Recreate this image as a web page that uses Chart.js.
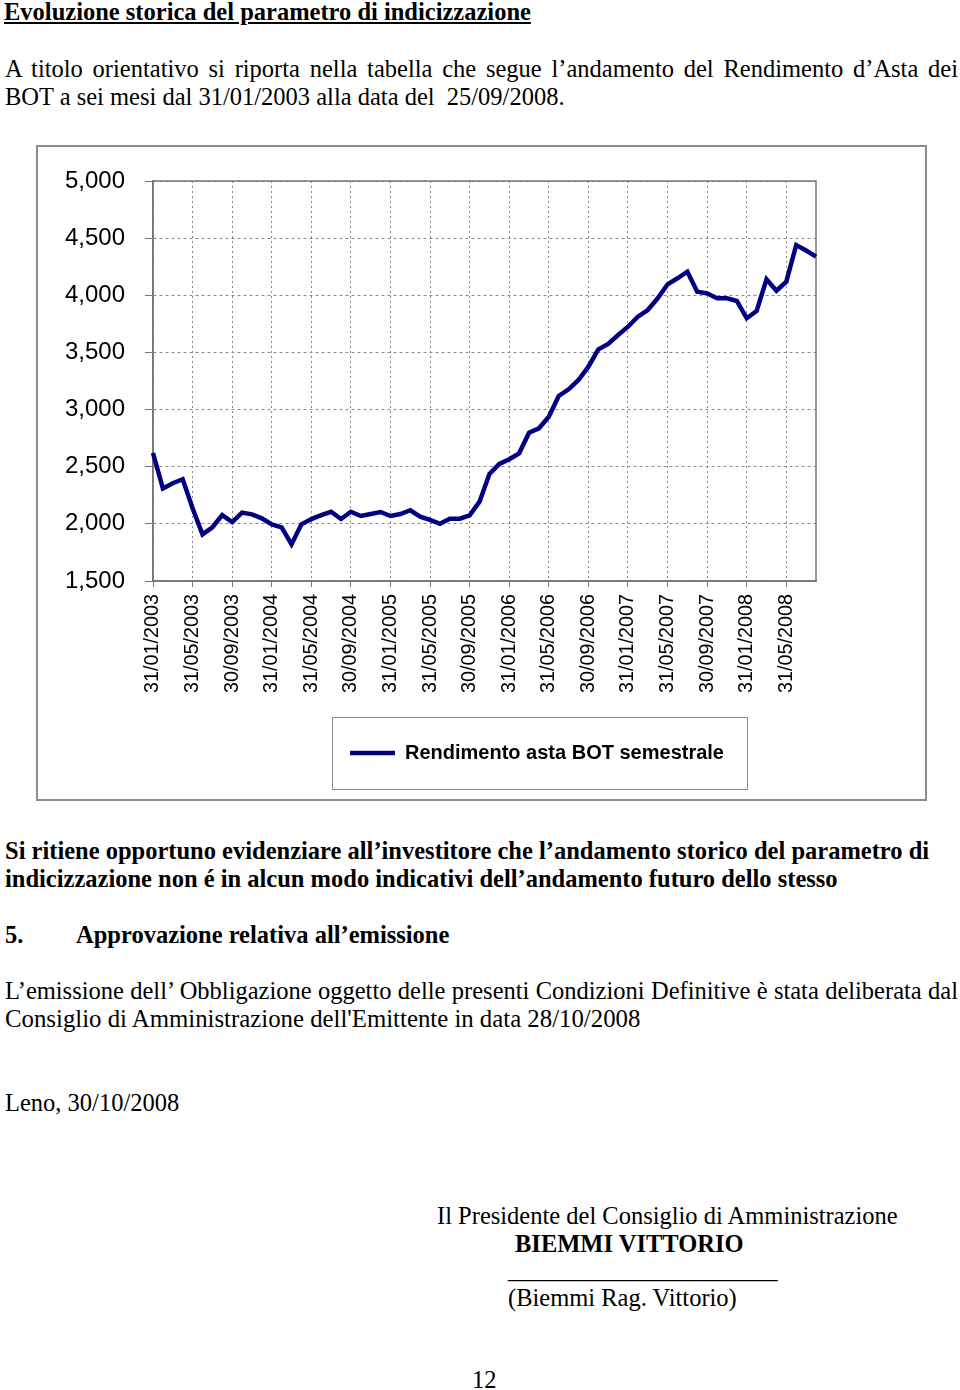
<!DOCTYPE html>
<html><head><meta charset="utf-8">
<script src="https://cdn.jsdelivr.net/npm/chart.js@4.4.1/dist/chart.umd.min.js"></script>
<style>
html,body{margin:0;padding:0;background:#fff;}
body{width:960px;height:1390px;position:relative;overflow:hidden;}
.t{position:absolute;font-family:"Liberation Serif","Times New Roman",serif;font-size:24.5px;line-height:24.5px;white-space:pre;color:#000;}
.b{font-weight:bold;}
.u{text-decoration:underline;}
.j{text-align:justify;text-align-last:justify;white-space:normal;}
#frame{position:absolute;left:36px;top:145px;width:891px;height:656px;border:2px solid #8c8c8c;box-sizing:border-box;}
#wrap{position:absolute;left:37px;top:146px;width:890px;height:655px;}
</style></head><body>
<div class="t b u" style="left:4px;top:0px;">Evoluzione storica del parametro di indicizzazione</div>
<div class="t j" style="left:5px;top:56.5px;width:953px;">A titolo orientativo si riporta nella tabella che segue l’andamento del Rendimento d’Asta dei</div>
<div class="t" style="left:5px;top:84.5px;">BOT a sei mesi dal 31/01/2003 alla data del  25/09/2008.</div>

<div id="frame"></div>
<div id="wrap"><canvas id="c" width="890" height="655" style="width:890px;height:655px;"></canvas></div>

<div class="t b" style="left:5px;top:838.5px;">Si ritiene opportuno evidenziare all’investitore che l’andamento storico del parametro di</div>
<div class="t b" style="left:5px;top:866.5px;">indicizzazione non é in alcun modo indicativi dell’andamento futuro dello stesso</div>
<div class="t b" style="left:5px;top:922.5px;">5.</div>
<div class="t b" style="left:76px;top:922.5px;">Approvazione relativa all’emissione</div>
<div class="t j" style="left:5px;top:978.5px;width:953px;">L’emissione dell’ Obbligazione oggetto delle presenti Condizioni Definitive è stata deliberata dal</div>
<div class="t" style="left:5px;top:1006.5px;font-size:24.8px;">Consiglio di Amministrazione dell'Emittente in data 28/10/2008</div>
<div class="t" style="left:5px;top:1090.5px;">Leno, 30/10/2008</div>
<div class="t" style="left:437px;top:1203.5px;">Il Presidente del Consiglio di Amministrazione</div>
<div class="t b" style="left:515px;top:1231.5px;">BIEMMI VITTORIO</div>
<div class="t" style="left:508px;top:1257.5px;">______________________</div>
<div class="t" style="left:508px;top:1285.5px;">(Biemmi Rag. Vittorio)</div>
<div class="t" style="left:472px;top:1367.5px;">12</div>

<script>
// ---- data ----
const dates = [
  '31/01/2003','28/02/2003','31/03/2003','30/04/2003','31/05/2003','30/06/2003','31/07/2003','31/08/2003','30/09/2003','31/10/2003','30/11/2003','31/12/2003',
  '31/01/2004','29/02/2004','31/03/2004','30/04/2004','31/05/2004','30/06/2004','31/07/2004','31/08/2004','30/09/2004','31/10/2004','30/11/2004','31/12/2004',
  '31/01/2005','28/02/2005','31/03/2005','30/04/2005','31/05/2005','30/06/2005','31/07/2005','31/08/2005','30/09/2005','31/10/2005','30/11/2005','31/12/2005',
  '31/01/2006','28/02/2006','31/03/2006','30/04/2006','31/05/2006','30/06/2006','31/07/2006','31/08/2006','30/09/2006','31/10/2006','30/11/2006','31/12/2006',
  '31/01/2007','28/02/2007','31/03/2007','30/04/2007','31/05/2007','30/06/2007','31/07/2007','31/08/2007','30/09/2007','31/10/2007','30/11/2007','31/12/2007',
  '31/01/2008','29/02/2008','31/03/2008','30/04/2008','31/05/2008','30/06/2008','31/07/2008','31/08/2008'
];
const yields = [
  2.620, 2.310, 2.355, 2.390, 2.136, 1.908, 1.970, 2.077, 2.016, 2.098,
  2.083, 2.048, 1.996, 1.970, 1.821, 1.996, 2.042, 2.077, 2.106, 2.042,
  2.106, 2.069, 2.086, 2.104, 2.069, 2.086, 2.119, 2.063, 2.034, 2.001,
  2.045, 2.045, 2.075, 2.194, 2.436, 2.524, 2.565, 2.617, 2.798, 2.836,
  2.938, 3.119, 3.177, 3.259, 3.375, 3.527, 3.574, 3.652, 3.725, 3.813,
  3.871, 3.974, 4.096, 4.149, 4.206, 4.031, 4.017, 3.974, 3.974, 3.950,
  3.799, 3.863, 4.140, 4.040, 4.119, 4.440, 4.392, 4.338
];
const seriesName = 'Rendimento asta BOT semestrale';
const yMin = 1.5, yMax = 5.0, yStep = 0.5;
const labelEvery = 4;

// ---- styles ----
const SANS = '"Liberation Sans", Arial, Helvetica, sans-serif';
const GRID = '#8a8a8a';
const AXIS = '#777777';

const plotFrame = {
  id: 'plotFrame',
  beforeDatasetsDraw(chart) {
    const {ctx, chartArea: a} = chart;
    ctx.save();
    ctx.strokeStyle = AXIS; ctx.lineWidth = 1.5;
    ctx.strokeRect(a.left, a.top, a.right - a.left, a.bottom - a.top);
    ctx.restore();
  }
};
const legendShift = {
  id: 'legendShift',
  afterLayout(chart) {
    const l = chart.legend; if (!l) return;
    const dx = 500 - (l.left + l.right) / 2;
    l.left += dx; l.right += dx;
  }
};
const legendFrame = {
  id: 'legendFrame',
  afterDraw(chart) {
    const l = chart.legend; if (!l) return;
    const ctx = chart.ctx;
    const fs = l.options.labels.font.size;
    const cx = (l.left + l.right) / 2 + 2;
    const cy = l.top + l.options.labels.padding + fs / 2;
    ctx.save();
    ctx.strokeStyle = '#8c8c8c'; ctx.lineWidth = 1;
    ctx.strokeRect(Math.round(cx - 207.5) + 0.5, Math.round(cy - 36) + 0.5, 415, 72);
    ctx.restore();
  }
};

new Chart(document.getElementById('c'), {
  type: 'line',
  data: {
    labels: dates,
    datasets: [{
      label: seriesName,
      data: yields,
      borderColor: '#000080',
      backgroundColor: '#000080',
      borderWidth: 4.5,
      pointRadius: 0,
      pointHoverRadius: 0,
      tension: 0,
      fill: false
    }]
  },
  options: {
    responsive: false,
    devicePixelRatio: 1,
    animation: false,
    events: [],
    layout: { padding: { top: 35, right: 111, bottom: 28, left: 0 } },
    plugins: {
      tooltip: { enabled: false },
      legend: {
        position: 'bottom',
        labels: {
          usePointStyle: true,
          pointStyle: 'line',
          pointStyleWidth: 45,
          padding: 32,
          color: '#000',
          font: { family: SANS, size: 20, weight: 'bold' }
        }
      }
    },
    scales: {
      x: {
        type: 'category',
        offset: false,
        grid: {
          color: c => (c.index % labelEvery === 0 ? GRID : 'rgba(0,0,0,0)'),
          tickColor: c => (c.index % labelEvery === 0 ? AXIS : 'rgba(0,0,0,0)'),
          lineWidth: 1,
          tickLength: 6
        },
        border: { display: true, color: AXIS, width: 1.5, dash: [2, 3] },
        ticks: {
          autoSkip: false, maxRotation: 90, minRotation: 90, padding: 7,
          color: '#000', font: { family: SANS, size: 19.8 },
          callback(v, i) { return i % labelEvery === 0 ? this.getLabelForValue(v) : ''; }
        },
        afterFit(s) { s.height = 130; }
      },
      y: {
        min: yMin, max: yMax,
        grid: { color: GRID, tickColor: AXIS, lineWidth: 1, tickLength: 8 },
        border: { display: true, color: AXIS, width: 1.5, dash: [3, 3] },
        ticks: {
          stepSize: yStep, padding: 20, color: '#000',
          font: { family: SANS, size: 24 },
          callback: v => v.toFixed(3).replace('.', ',')
        },
        afterFit(s) { s.width = 116; }
      }
    }
  },
  plugins: [plotFrame, legendShift, legendFrame]
});
</script>
</body></html>
